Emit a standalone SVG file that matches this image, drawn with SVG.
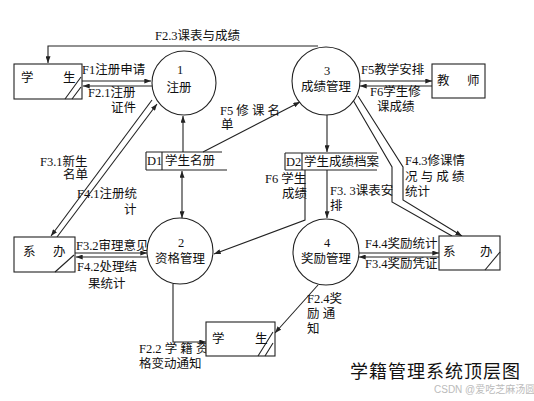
<svg xmlns="http://www.w3.org/2000/svg" width="534" height="401" viewBox="0 0 534 401">
<defs>
<marker id="arr" viewBox="0 0 8 6" refX="8" refY="3" markerWidth="7" markerHeight="5" markerUnits="userSpaceOnUse" orient="auto-start-reverse">
<path d="M0,0 L8,3 L0,6 Z" fill="#222"/>
</marker>
</defs>
<style>
.ln{fill:none;stroke:#222;stroke-width:1.1}
.nd{fill:#fff;stroke:#222;stroke-width:1.1}
text{font-family:"Liberation Serif","Noto Sans CJK SC",serif;font-size:12.5px;fill:#111}
.c{text-anchor:middle}
.title{font-family:"Noto Sans CJK SC",serif;font-size:18px;letter-spacing:1px}
.wm{font-family:"Liberation Sans","Noto Sans CJK SC",sans-serif;font-size:10px;fill:#bbb}
</style>
<rect width="534" height="401" fill="#fff"/>

<g id="connectors">
<path class="ln" d="M318,46 H48 V63" marker-end="url(#arr)"/>
<path class="ln" d="M82,81 H151" marker-end="url(#arr)"/>
<path class="ln" d="M152,86 H83" marker-end="url(#arr)"/>
<path class="ln" d="M152,100 L51,236" marker-end="url(#arr)"/>
<path class="ln" d="M57,237 L157,104" marker-end="url(#arr)"/>
<path class="ln" d="M183,152 V116" marker-end="url(#arr)"/>
<path class="ln" d="M182,171 V218" marker-start="url(#arr)" marker-end="url(#arr)"/>
<path class="ln" d="M203,152 L300,102" marker-end="url(#arr)"/>
<path class="ln" d="M327,115 V152" marker-end="url(#arr)"/>
<path class="ln" d="M327,170 V218" marker-end="url(#arr)"/>
<path class="ln" d="M305,170 V220 L214,254" marker-end="url(#arr)"/>
<path class="ln" d="M360,81 H432" marker-end="url(#arr)"/>
<path class="ln" d="M432,86 H360" marker-end="url(#arr)"/>
<path class="ln" d="M353,100 L392,167 V202 L452,236"/>
<path class="ln" d="M358,96 L403,167 V200 L462,236" marker-end="url(#arr)"/>
<path class="ln" d="M359,253 H439" marker-end="url(#arr)"/>
<path class="ln" d="M439,257 H359" marker-end="url(#arr)"/>
<path class="ln" d="M75,253 H147" marker-end="url(#arr)"/>
<path class="ln" d="M147,257 H76" marker-end="url(#arr)"/>
<path class="ln" d="M173,284 V342 H206" marker-end="url(#arr)"/>
<path class="ln" d="M318,285 L275,333" marker-end="url(#arr)"/>
</g>

<g id="labels">
<text x="155" y="40">F2.3课表与成绩</text>
<text x="82" y="74">F1注册申请</text>
<text x="88" y="97">F2.1注册</text>
<text x="111" y="112">证件</text>
<text x="220" y="115">F5 修 课 名</text>
<text x="221" y="129">单</text>
<text x="361" y="74">F5教学安排</text>
<text x="370" y="96">F6学生修</text>
<text x="377" y="111">课成绩</text>
<text x="40" y="166">F3.1新生</text>
<text x="63" y="179">名单</text>
<text x="77" y="198">F4.1注册统</text>
<text x="124" y="214">计</text>
<text x="76" y="250">F3.2审理意见</text>
<text x="77" y="271">F4.2处理结</text>
<text x="88" y="288">果统计</text>
<text x="265" y="183">F6 学生</text>
<text x="282" y="198">成绩</text>
<text x="330" y="195">F3. 3课表安</text>
<text x="330" y="210">排</text>
<text x="405" y="165">F4.3修课情</text>
<text x="405" y="181">况 与 成 绩</text>
<text x="405" y="196">统计</text>
<text x="365" y="248">F4.4奖励统计</text>
<text x="365" y="268">F3.4奖励凭证</text>
<text x="307" y="303">F2.4奖</text>
<text x="307" y="318">励  通</text>
<text x="307" y="333">知</text>
<text x="139" y="353">F2.2 学 籍 资</text>
<text x="139" y="368">格变动通知</text>
</g>

<g id="ext-student-top">
<rect class="nd" x="14" y="64" width="68" height="35"/>
<path class="ln" d="M65,99 L81,77 M72,99 L81,87"/>
<text x="21" y="82">学</text>
<text x="63" y="82">生</text>
</g>

<g id="ext-teacher">
<rect class="nd" x="432" y="64" width="53" height="34"/>
<text x="437" y="85">教</text>
<text x="467" y="85">师</text>
</g>

<g id="ext-office-left">
<rect class="nd" x="14" y="237" width="61" height="35"/>
<path class="ln" d="M55,272 L74,255"/>
<text x="23" y="256">系</text>
<text x="53" y="256">办</text>
</g>

<g id="ext-office-right">
<rect class="nd" x="439" y="236" width="61" height="34"/>
<path class="ln" d="M485,270 L500,252"/>
<text x="443" y="256">系</text>
<text x="480" y="256">办</text>
</g>

<g id="ext-student-bottom">
<rect class="nd" x="206" y="322" width="69" height="34"/>
<path class="ln" d="M258,356 L273,332 M265,356 L273,343"/>
<text x="212" y="343">学</text>
<text x="255" y="343">生</text>
</g>

<g id="p1">
<circle class="nd" cx="184" cy="83" r="32"/>
<text class="c" x="180" y="74">1</text>
<text class="c" x="179" y="92">注册</text>
</g>

<g id="p2">
<circle class="nd" cx="180" cy="251" r="33"/>
<text class="c" x="181" y="247">2</text>
<text class="c" x="180" y="263">资格管理</text>
</g>

<g id="p3">
<circle class="nd" cx="326" cy="81" r="34"/>
<text class="c" x="327" y="75">3</text>
<text class="c" x="326" y="91">成绩管理</text>
</g>

<g id="p4">
<circle class="nd" cx="326" cy="252" r="33"/>
<text class="c" x="327" y="247">4</text>
<text class="c" x="326" y="263">奖励管理</text>
</g>

<g id="d1">
<path class="ln" d="M146,152 H222 M146,170 H227 M146,152 V170 M162,152 V170"/>
<text x="147" y="165">D1</text>
<text x="165" y="165">学生名册</text>
</g>

<g id="d2">
<path class="ln" d="M285,153 H377 M285,170 H377 M285,153 V170 M302,153 V170"/>
<text x="286" y="166">D2</text>
<text x="304" y="166">学生成绩档案</text>
</g>

<text class="title" x="350" y="378">学籍管理系统顶层图</text>
<text class="wm" x="434" y="393">CSDN @爱吃芝麻汤圆</text>
</svg>
